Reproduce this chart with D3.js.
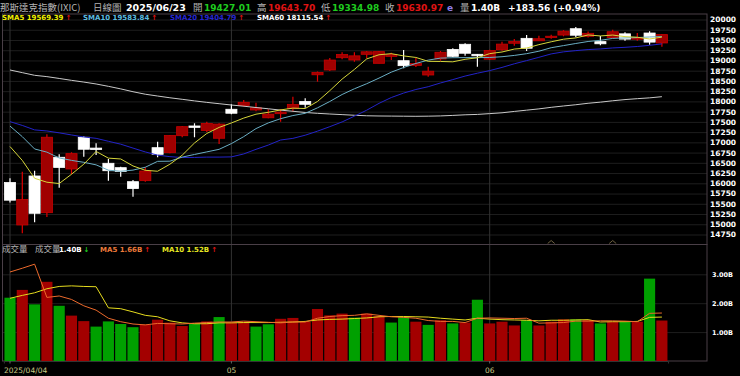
<!DOCTYPE html>
<html>
<head>
<meta charset="utf-8">
<script src="https://cdn.jsdelivr.net/npm/d3@7"></script>
<style>
  html, body { margin: 0; padding: 0; background: #000; }
  svg { display: block; }
  .cjk { font-family: 'Noto Sans CJK TC', sans-serif; }
  .num { font-family: 'DejaVu Sans', sans-serif; font-weight: bold; }
</style>
</head>
<body>
<svg id="chart" width="740" height="376"></svg>
<script>
// daily bars, 2025/04/04 - 2025/06/23
const dates = [
  '2025-04-04', '2025-04-07', '2025-04-08', '2025-04-09', '2025-04-10', '2025-04-11',
  '2025-04-14', '2025-04-15', '2025-04-16', '2025-04-17', '2025-04-21', '2025-04-22',
  '2025-04-23', '2025-04-24', '2025-04-25', '2025-04-28', '2025-04-29', '2025-04-30',
  '2025-05-01', '2025-05-02', '2025-05-05', '2025-05-06', '2025-05-07', '2025-05-08',
  '2025-05-09', '2025-05-12', '2025-05-13', '2025-05-14', '2025-05-15', '2025-05-16',
  '2025-05-19', '2025-05-20', '2025-05-21', '2025-05-22', '2025-05-23', '2025-05-27',
  '2025-05-28', '2025-05-29', '2025-05-30', '2025-06-02', '2025-06-03', '2025-06-04',
  '2025-06-05', '2025-06-06', '2025-06-09', '2025-06-10', '2025-06-11', '2025-06-12',
  '2025-06-13', '2025-06-16', '2025-06-17', '2025-06-18', '2025-06-20', '2025-06-23'
];
const opens = [
  16020, 14983, 16179, 15283, 16636, 16350, 17124, 16860, 16489, 16382,
  16040, 16065, 16870, 16748, 17163, 17400, 17290, 17100, 17808, 17900,
  17790, 17600, 17700, 17830, 18000, 18650, 18767, 19067, 19011, 19150,
  18930, 19100, 18994, 18880, 18645, 19036, 19270, 19395, 19150, 19030,
  19260, 19420, 19540, 19480, 19560, 19620, 19775, 19590, 19460, 19560,
  19650, 19520, 19670, 19427.01
];
const highs = [
  16123, 16285, 16309, 17197, 16709, 16758, 17150, 16978, 16594, 16406,
  16082, 16392, 17017, 17173, 17400, 17466, 17505, 17466, 17930, 18035,
  17969, 17808, 17808, 18115, 18076, 18730, 19060, 19199, 19199, 19231,
  19231, 19190, 19255, 19060, 18848, 19231, 19297, 19419, 19160, 19260,
  19458, 19524, 19622, 19605, 19630, 19740, 19817, 19710, 19600, 19751,
  19688, 19671, 19712, 19643.70
];
const lows = [
  15530, 14780, 15049, 15180, 15894, 16221, 16650, 16692, 16065, 16162,
  15674, 16040, 16636, 16733, 17124, 17124, 17250, 16960, 17686, 17872,
  17760, 17588, 17505, 17750, 17847, 18482, 18743, 19028, 18970, 19053,
  18930, 19011, 18809, 18840, 18604, 18994, 19080, 19116, 18848, 19011,
  19238, 19360, 19231, 19475, 19530, 19590, 19565, 19560, 19370, 19540,
  19483, 19483, 19385, 19334.98
];
const closes = [
  15587.79, 15603.26, 15267.91, 17124.97, 16387.31, 16724.46, 16831.48, 16823.17, 16307.16, 16286.45,
  15870.90, 16300.42, 16708.05, 17166.04, 17382.94, 17366.13, 17461.32, 17446.34, 17710.74, 17977.73,
  17844.24, 17689.66, 17738.16, 17928.14, 17928.92, 18708.34, 19010.08, 19146.81, 19112.32, 19211.10,
  19215.46, 19142.71, 18872.64, 18925.74, 18737.21, 19199.16, 19100.94, 19175.87, 19113.77, 19242.61,
  19398.96, 19460.49, 19298.45, 19529.95, 19591.24, 19714.99, 19615.88, 19662.49, 19406.83, 19701.21,
  19521.09, 19546.27, 19447.41, 19630.97
];
// closes of the 19 sessions before the window (2025/03/10 - 2025/04/03), for the SMAs
const priorCloses = [
  17468.32, 17436.10, 17648.45, 17303.01, 17754.09, 17808.66, 17504.12, 17750.79, 17691.63, 17784.05,
  18188.59, 18271.86, 17899.02, 17804.03, 17322.99, 17299.29, 17449.89, 17601.05, 16550.61
];
const sma60 = [
  18766.96, 18702.37, 18637.47, 18604.75, 18560.47, 18514.02, 18472.24, 18425.46, 18367.97, 18305.92,
  18236.21, 18175.31, 18131.41, 18088.62, 18051.13, 18012.54, 17976.44, 17944.03, 17911.64, 17883.06,
  17850.60, 17820.04, 17787.10, 17758.50, 17729.82, 17709.20, 17692.26, 17677.35, 17661.62, 17649.10,
  17643.96, 17641.56, 17639.00, 17636.51, 17639.72, 17645.58, 17658.09, 17672.94, 17682.29, 17701.85,
  17721.90, 17755.10, 17786.14, 17817.50, 17855.64, 17888.32, 17918.44, 17954.41, 17982.01, 18015.50,
  18044.45, 18067.08, 18086.67, 18115.54
];
// volume, billions
const volumes = [
  2.19, 2.46, 1.96, 2.74, 1.91, 1.57, 1.38, 1.19, 1.37, 1.28,
  1.17, 1.26, 1.43, 1.33, 1.21, 1.30, 1.37, 1.52, 1.34, 1.36,
  1.19, 1.27, 1.46, 1.49, 1.36, 1.80, 1.58, 1.64, 1.50, 1.64,
  1.56, 1.33, 1.52, 1.36, 1.25, 1.41, 1.30, 1.33, 2.12, 1.30,
  1.36, 1.23, 1.41, 1.23, 1.36, 1.44, 1.44, 1.42, 1.30, 1.36,
  1.36, 1.36, 2.85, 1.40
];
const volMa5 = [
  3.08, 3.21, 3.35, 2.20, 2.25, 2.13, 1.91, 1.76, 1.48, 1.36,
  1.28, 1.25, 1.30, 1.29, 1.28, 1.31, 1.33, 1.35, 1.35, 1.38,
  1.36, 1.34, 1.32, 1.35, 1.35, 1.48, 1.54, 1.57, 1.58, 1.63,
  1.58, 1.53, 1.51, 1.48, 1.40, 1.37, 1.37, 1.33, 1.48, 1.49,
  1.48, 1.47, 1.48, 1.31, 1.32, 1.33, 1.38, 1.38, 1.39, 1.39,
  1.38, 1.36, 1.65, 1.66
];
const volMa10 = [
  2.17, 2.27, 2.36, 2.50, 2.58, 2.60, 2.58, 2.57, 1.84, 1.81,
  1.70, 1.58, 1.53, 1.39, 1.32, 1.29, 1.29, 1.32, 1.32, 1.33,
  1.33, 1.33, 1.34, 1.35, 1.37, 1.42, 1.44, 1.45, 1.47, 1.49,
  1.53, 1.54, 1.54, 1.53, 1.52, 1.48, 1.45, 1.42, 1.48, 1.45,
  1.43, 1.42, 1.41, 1.39, 1.41, 1.41, 1.42, 1.43, 1.35, 1.36,
  1.36, 1.37, 1.51, 1.52
];
const priceTicks = [
  14750, 15000, 15250, 15500, 15750, 16000, 16250, 16500, 16750, 17000, 17250,
  17500, 17750, 18000, 18250, 18500, 18750, 19000, 19250, 19500, 19750, 20000
];
const volumeTicks = [1, 2, 3];
const monthTicks = ['2025-04-04', '2025-05-01', '2025-06-02'];
const monthLabels = ['2025/04/04', '05', '06'];
const eventDates = ['2025-06-09', '2025-06-16'];

const RED = '#e01414', GREEN = '#1fcc1f', GRAY = '#b4b4b4';

const svg = d3.select('#chart');
const left = 2.5, right = 707, priceTop = 14, priceBottom = 244.5, volBottom = 361;

svg.append('rect').attr('width', 740).attr('height', 376).attr('fill', '#000');

const x = d3.scaleBand().domain(dates).range([3.85, 668.05]);
const cx = d => x(d) + x.bandwidth() / 2;
const y = d3.scaleLinear().domain([14750, 20000]).range([234.5, 19.5]);
const yv = d3.scaleLinear().domain([0, 3]).range([volBottom, 274.3]);

const allCloses = priorCloses.concat(closes);
const offset = priorCloses.length;
function sma(n) {
  return closes.map((_, i) => d3.mean(allCloses.slice(i + offset + 1 - n, i + offset + 1)));
}
const sma5 = sma(5), sma10 = sma(10), sma20 = sma(20);

const bars = dates.map((date, i) => ({
  date,
  open: opens[i],
  high: highs[i],
  low: lows[i],
  close: closes[i],
  volume: volumes[i],
  prevClose: i === 0 ? priorCloses[priorCloses.length - 1] : closes[i - 1],
}));

// grids
svg.append('g')
  .attr('transform', `translate(${right},0)`)
  .call(d3.axisLeft(y).tickValues(priceTicks).tickSize(right - left).tickFormat(''))
  .call(g => g.select('.domain').remove())
  .selectAll('line').attr('stroke', '#1e1e1e');

svg.append('g')
  .attr('transform', `translate(${right},0)`)
  .call(d3.axisLeft(yv).tickValues(volumeTicks).tickSize(right - left).tickFormat(''))
  .call(g => g.select('.domain').remove())
  .selectAll('line').attr('stroke', '#1e1e1e');

svg.append('g')
  .selectAll('line')
  .data(monthTicks)
  .enter().append('line')
  .attr('x1', d => cx(d)).attr('x2', d => cx(d))
  .attr('y1', priceTop).attr('y2', volBottom)
  .attr('stroke', '#333');

// panel borders
const border = svg.append('g').attr('stroke', '#4a3f47').attr('fill', 'none');
border.append('rect')
  .attr('x', left).attr('y', priceTop)
  .attr('width', right - left).attr('height', priceBottom - priceTop);
border.append('rect')
  .attr('x', left).attr('y', priceBottom)
  .attr('width', right - left).attr('height', volBottom - priceBottom);

// candles
const candle = svg.append('g')
  .attr('class', 'candles')
  .selectAll('g')
  .data(bars)
  .enter().append('g');

const isUp = d => d.close >= d.open;
const bodyW = x.bandwidth() - 1.2;

candle.append('line')
  .attr('x1', d => cx(d.date)).attr('x2', d => cx(d.date))
  .attr('y1', d => y(d.high)).attr('y2', d => y(d.low))
  .attr('stroke', d => isUp(d) ? '#e00000' : '#ffffff')
  .attr('stroke-width', 1.2);

candle.append('rect')
  .attr('x', d => cx(d.date) - bodyW / 2)
  .attr('y', d => y(Math.max(d.open, d.close)))
  .attr('width', bodyW)
  .attr('height', d => Math.max(1, Math.abs(y(d.open) - y(d.close))))
  .attr('fill', d => isUp(d) ? '#a00000' : '#ffffff')
  .attr('stroke', d => isUp(d) ? '#c80000' : '#ffffff')
  .attr('stroke-width', 0.8);

// event markers
svg.append('g')
  .selectAll('path')
  .data(eventDates)
  .enter().append('path')
  .attr('transform', d => `translate(${cx(d)},${priceBottom - 1})`)
  .attr('d', 'M-3.5,0L0,-3L3.5,0')
  .attr('fill', 'none')
  .attr('stroke', '#6e6040');

// moving averages
const priceLine = d3.line().x((_, i) => cx(dates[i])).y(v => y(v));
[[sma60, '#c8c8c8'], [sma20, '#2323c8'], [sma10, '#6aaec4'], [sma5, '#d6d63a']]
  .forEach(([series, colour]) => {
    svg.append('path')
      .datum(series)
      .attr('d', priceLine)
      .attr('fill', 'none')
      .attr('stroke', colour)
      .attr('stroke-width', 1);
  });

// volume
svg.append('g')
  .selectAll('rect')
  .data(bars)
  .enter().append('rect')
  .attr('x', d => cx(d.date) - bodyW / 2)
  .attr('y', d => yv(d.volume))
  .attr('width', bodyW)
  .attr('height', d => yv(0) - yv(d.volume))
  .attr('fill', d => d.close >= d.prevClose ? '#a30000' : '#00a000');

const volLine = d3.line().x((_, i) => cx(dates[i])).y(v => yv(v));
[[volMa10, '#e6dc1e'], [volMa5, '#ec6a2c']].forEach(([series, colour]) => {
  svg.append('path')
    .datum(series)
    .attr('d', volLine)
    .attr('fill', 'none')
    .attr('stroke', colour)
    .attr('stroke-width', 1);
});

// axes
svg.append('g')
  .attr('transform', `translate(${right},0)`)
  .call(d3.axisRight(y).tickValues(priceTicks).tickSize(0).tickPadding(3).tickFormat(d3.format('d')))
  .call(g => g.select('.domain').remove())
  .selectAll('text')
  .attr('fill', '#fff')
  .style('font-size', '7.5px')
  .style('font-family', 'DejaVu Sans')
  .style('font-weight', 'bold');

svg.append('g')
  .attr('transform', `translate(${right},0)`)
  .call(d3.axisRight(yv).tickValues(volumeTicks).tickSize(0).tickPadding(5).tickFormat(d => d.toFixed(2) + 'B'))
  .call(g => g.select('.domain').remove())
  .selectAll('text')
  .attr('fill', '#fff')
  .style('font-size', '6.5px')
  .style('font-family', 'DejaVu Sans')
  .style('font-weight', 'bold');

const xAxis = svg.append('g')
  .attr('transform', `translate(0,${volBottom})`)
  .call(d3.axisBottom(x).tickValues(monthTicks).tickSize(2.5).tickPadding(4.5)
    .tickFormat(d => monthLabels[monthTicks.indexOf(d)]))
  .call(g => g.select('.domain').attr('stroke', '#333'));
xAxis.selectAll('line').attr('stroke', '#666');
xAxis.selectAll('text')
  .attr('fill', '#c9c985')
  .attr('text-anchor', (d, i) => i === 0 ? 'start' : 'middle')
  .attr('dx', (d, i) => i === 0 ? -6 : 0)
  .style('font-size', '7.5px')
  .style('font-family', 'DejaVu Sans');

// header
const last = bars.length - 1;
const fmt2 = d3.format('.2f');
const tone = v => v >= bars[last].prevClose ? RED : GREEN;
const arrow = (a, b) => a >= b ? { ch: '↑', c: RED } : { ch: '↓', c: GREEN };

function label(g, xPos, yPos, text, cls, colour, size) {
  return g.append('text')
    .attr('x', xPos).attr('y', yPos)
    .attr('class', cls)
    .attr('fill', colour)
    .style('font-size', size + 'px')
    .text(text);
}

const head = svg.append('g');
const hy = 10.5;
const dateText = dates[last].replace(/-/g, '/');
label(head, 0, hy, '那斯達克指數(IXIC)', 'cjk', GRAY, 9.5);
label(head, 93, hy, '日線圖', 'cjk', GRAY, 9.5);
label(head, 126, hy, dateText, 'num', '#fff', 9.5);
label(head, 193, hy, '開', 'cjk', GRAY, 9.5);
label(head, 204, hy, fmt2(opens[last]), 'num', tone(opens[last]), 9);
label(head, 257, hy, '高', 'cjk', GRAY, 9.5);
label(head, 268, hy, fmt2(highs[last]), 'num', tone(highs[last]), 9);
label(head, 321, hy, '低', 'cjk', GRAY, 9.5);
label(head, 332, hy, fmt2(lows[last]), 'num', tone(lows[last]), 9);
label(head, 385, hy, '收', 'cjk', GRAY, 9.5);
label(head, 396, hy, fmt2(closes[last]), 'num', tone(closes[last]), 9);
label(head, 447, hy, 'e', 'num', '#8f7fe6', 9);
label(head, 460, hy, '量', 'cjk', GRAY, 9.5);
label(head, 471, hy, fmt2(volumes[last]) + 'B', 'num', '#fff', 9);
const chg = closes[last] - bars[last].prevClose;
label(head, 508, hy, `${chg >= 0 ? '+' : ''}${fmt2(chg)} (${chg >= 0 ? '+' : ''}${fmt2(chg / bars[last].prevClose * 100)}%)`,
  'num', '#fff', 9);

// price legend
const ly = 19.5;
const legend = [
  { name: 'SMA5', series: sma5, colour: '#f0f000', x: 2 },
  { name: 'SMA10', series: sma10, colour: '#5cbde0', x: 83 },
  { name: 'SMA20', series: sma20, colour: '#2626d2', x: 170 },
  { name: 'SMA60', series: sma60, colour: '#ffffff', x: 257 },
];
legend.forEach(item => {
  const t = label(head, item.x, ly, `${item.name} ${fmt2(item.series[last])}`, 'num', item.colour, 7);
  const w = t.node().getComputedTextLength();
  const a = arrow(item.series[last], item.series[last - 1]);
  label(head, item.x + w + 2, ly, a.ch, 'num', a.c, 7);
});

// volume legend
const vy = 251.5;
label(head, 2, vy, '成交量', 'cjk', GRAY, 8.5);
label(head, 35, vy, '成交量', 'cjk', GRAY, 8.5);
const volLegend = [
  { text: fmt2(volumes[last]) + 'B', cur: volumes[last], prev: volumes[last - 1], colour: '#fff', x: 59 },
  { text: 'MA5 ' + fmt2(volMa5[last]) + 'B', cur: volMa5[last], prev: volMa5[last - 1], colour: '#ec7a3a', x: 100 },
  { text: 'MA10 ' + fmt2(volMa10[last]) + 'B', cur: volMa10[last], prev: volMa10[last - 1], colour: '#e6e622', x: 162 },
];
volLegend.forEach(item => {
  const t = label(head, item.x, vy, item.text, 'num', item.colour, 7);
  const w = t.node().getComputedTextLength();
  const a = arrow(item.cur, item.prev);
  label(head, item.x + w + 2, vy, a.ch, 'num', a.c, 7);
});
</script>
</body>
</html>
